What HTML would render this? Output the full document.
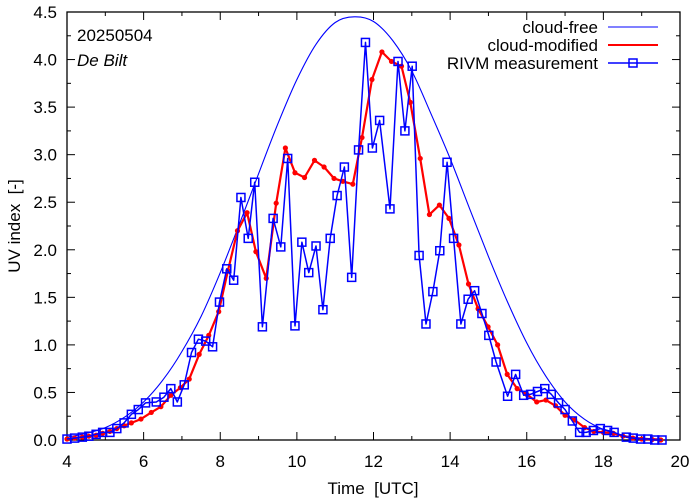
<!DOCTYPE html>
<html><head><meta charset="utf-8"><style>
body{margin:0;background:#fff}
svg{display:block;font-family:"Liberation Sans",sans-serif}
</style></head><body>
<svg id="chart" width="694" height="501" viewBox="0 0 694 501" xmlns="http://www.w3.org/2000/svg">
<g id="axes"></g>
<g id="series"></g>
<text x="77" y="41" font-size="17">20250504</text>
<text x="77" y="66" font-size="17" font-style="italic">De Bilt</text>
<text x="373" y="494" font-size="17" text-anchor="middle">Time&#160;&#160;[UTC]</text>
<text transform="translate(20,226) rotate(-90)" font-size="17" text-anchor="middle">UV index&#160;&#160;[-]</text>
<g>
<text x="598" y="33" font-size="17" text-anchor="end">cloud-free</text>
<line x1="608" y1="27" x2="658" y2="27" stroke="#0000ff" stroke-width="1"/>
<text x="598" y="51" font-size="17" text-anchor="end">cloud-modified</text>
<line x1="608" y1="45" x2="658" y2="45" stroke="#ff0000" stroke-width="2"/>
<text x="598" y="69" font-size="17" text-anchor="end">RIVM measurement</text>
<line x1="608" y1="63" x2="658" y2="63" stroke="#0000ff" stroke-width="1.5"/>
<rect x="629" y="59" width="8" height="8" fill="none" stroke="#0000ff" stroke-width="1.5"/>
</g>
</svg>
<script>
const clearHours=[4,4.5,5,5.5,6,6.5,7,7.5,8,8.5,9,9.5,10,10.5,11,11.5,12,12.5,13,13.5,14,14.5,15,15.5,16,16.5,17,17.5,18,18.5,19,19.5];
const clearValues=[0.03,0.07,0.13,0.24,0.4,0.63,0.93,1.3,1.76,2.27,2.8,3.32,3.79,4.16,4.39,4.45,4.4,4.2,3.88,3.43,2.96,2.44,1.93,1.45,1.02,0.67,0.4,0.22,0.11,0.05,0.02,0.01];
const modHours=[4,4.2,4.4,4.57,4.76,4.93,5.12,5.3,5.49,5.68,5.93,6.2,6.45,6.71,6.96,7.19,7.45,7.7,7.96,8.2,8.45,8.7,8.93,9.2,9.46,9.7,9.95,10.2,10.46,10.71,10.97,11.2,11.46,11.7,11.96,12.22,12.47,12.73,12.96,13.22,13.46,13.72,13.97,14.23,14.48,14.73,14.99,15.24,15.49,15.75,16.0,16.26,16.5,16.75,17.0,17.25,17.51,17.75,18.0,18.26,18.51,18.77,19.0,19.27,19.5];
const modValues=[0.01,0.02,0.03,0.04,0.05,0.07,0.09,0.12,0.15,0.18,0.22,0.29,0.35,0.47,0.55,0.64,0.9,1.1,1.35,1.78,2.2,2.39,1.98,1.7,2.49,3.07,2.81,2.76,2.94,2.87,2.75,2.72,2.69,3.18,3.79,4.08,3.98,3.93,3.55,2.96,2.37,2.47,2.33,2.05,1.64,1.38,1.19,1.0,0.69,0.54,0.48,0.4,0.42,0.36,0.26,0.21,0.13,0.09,0.08,0.07,0.04,0.02,0.01,0.005,0];
const measHours=[4,4.2,4.4,4.57,4.76,4.93,5.12,5.3,5.49,5.68,5.86,6.05,6.33,6.53,6.71,6.88,7.06,7.25,7.43,7.62,7.8,7.98,8.17,8.35,8.54,8.73,8.9,9.1,9.38,9.58,9.76,9.95,10.13,10.31,10.5,10.68,10.87,11.05,11.24,11.43,11.61,11.79,11.97,12.16,12.43,12.64,12.82,13.01,13.19,13.37,13.55,13.73,13.92,14.09,14.28,14.47,14.64,14.83,15.01,15.2,15.5,15.71,15.92,16.1,16.28,16.47,16.64,16.83,17.0,17.19,17.38,17.55,17.74,17.92,18.11,18.28,18.6,18.78,18.97,19.16,19.34,19.53];
const measValues=[0.01,0.02,0.03,0.04,0.06,0.08,0.08,0.12,0.18,0.27,0.32,0.39,0.4,0.45,0.54,0.4,0.58,0.92,1.06,1.04,0.98,1.45,1.8,1.68,2.55,2.12,2.71,1.19,2.33,2.03,2.96,1.2,2.08,1.76,2.04,1.37,2.12,2.57,2.87,1.71,3.05,4.18,3.07,3.36,2.43,3.98,3.25,3.93,1.94,1.22,1.56,1.99,2.92,2.12,1.22,1.48,1.57,1.33,1.1,0.82,0.46,0.69,0.47,0.48,0.51,0.54,0.48,0.39,0.32,0.2,0.08,0.08,0.1,0.12,0.1,0.08,0.03,0.02,0.01,0.01,0,0];
const xTicks=[4,6,8,10,12,14,16,18,20];
const yTicks=[0,0.5,1,1.5,2,2.5,3,3.5,4,4.5];

const L=67,R=680,T=12,B=440;
const NS='http://www.w3.org/2000/svg';
function sx(h){return L+(h-4)/16*(R-L);}
function sy(v){return B-v/4.5*(B-T);}
function mk(tag,attrs,parent){const e=document.createElementNS(NS,tag);for(const k in attrs)e.setAttribute(k,attrs[k]);parent.appendChild(e);return e;}
const axes=document.getElementById('axes'),series=document.getElementById('series');
for(let h=4;h<=20;h+=1){const x=sx(h),len=(h%2===0)?8:4;
mk('line',{x1:x,y1:B,x2:x,y2:B-len,stroke:'#000','stroke-width':1},axes);
mk('line',{x1:x,y1:T,x2:x,y2:T+len,stroke:'#000','stroke-width':1},axes);}
for(let i=0;i<=18;i++){const v=i*0.25,y=sy(v),len=(i%2===0)?8:4;
mk('line',{x1:L,y1:y,x2:L+len,y2:y,stroke:'#000','stroke-width':1},axes);
mk('line',{x1:R,y1:y,x2:R-len,y2:y,stroke:'#000','stroke-width':1},axes);}
xTicks.forEach(h=>{const t=mk('text',{x:sx(h),y:467,'font-size':17,'text-anchor':'middle'},axes);t.textContent=String(h);

});
yTicks.forEach(v=>{const t=mk('text',{x:57,y:sy(v)+6,'font-size':17,'text-anchor':'end'},axes);t.textContent=v.toFixed(1);

});
const frame=mk('rect',{x:L,y:T,width:R-L,height:B-T,fill:'none',stroke:'#000','stroke-width':1.3},axes);



function pts(hs,vs){return hs.map((h,i)=>sx(h).toFixed(1)+','+sy(vs[i]).toFixed(1)).join(' ');}
function smooth(hs,vs){const P=hs.map((h,i)=>[sx(h),sy(vs[i])]);let d='M'+P[0][0]+','+P[0][1];
for(let i=0;i<P.length-1;i++){const p0=P[Math.max(0,i-1)],p1=P[i],p2=P[i+1],p3=P[Math.min(P.length-1,i+2)];
const c1=[p1[0]+(p2[0]-p0[0])/6,p1[1]+(p2[1]-p0[1])/6],c2=[p2[0]-(p3[0]-p1[0])/6,p2[1]-(p3[1]-p1[1])/6];
d+=' C'+c1[0].toFixed(1)+','+c1[1].toFixed(1)+' '+c2[0].toFixed(1)+','+c2[1].toFixed(1)+' '+p2[0].toFixed(1)+','+p2[1].toFixed(1);}
return d;}
const cf=mk('path',{d:smooth(clearHours,clearValues),fill:'none',stroke:'#0000ff','stroke-width':1.1},series);


const cm=mk('polyline',{points:pts(modHours,modValues),fill:'none',stroke:'#ff0000','stroke-width':2.2,'stroke-linejoin':'round'},series);


modHours.forEach((h,i)=>{const c=mk('circle',{cx:sx(h),cy:sy(modValues[i]),r:2.6,fill:'#ff0000'},series);

});
const ms=mk('polyline',{points:pts(measHours,measValues),fill:'none',stroke:'#0000ff','stroke-width':1.5,'stroke-linejoin':'round'},series);


measHours.forEach((h,i)=>{const r=mk('rect',{x:sx(h)-4,y:sy(measValues[i])-4,width:8,height:8,fill:'none',stroke:'#0000ff','stroke-width':1.5},series);

});
</script>
</body></html>
